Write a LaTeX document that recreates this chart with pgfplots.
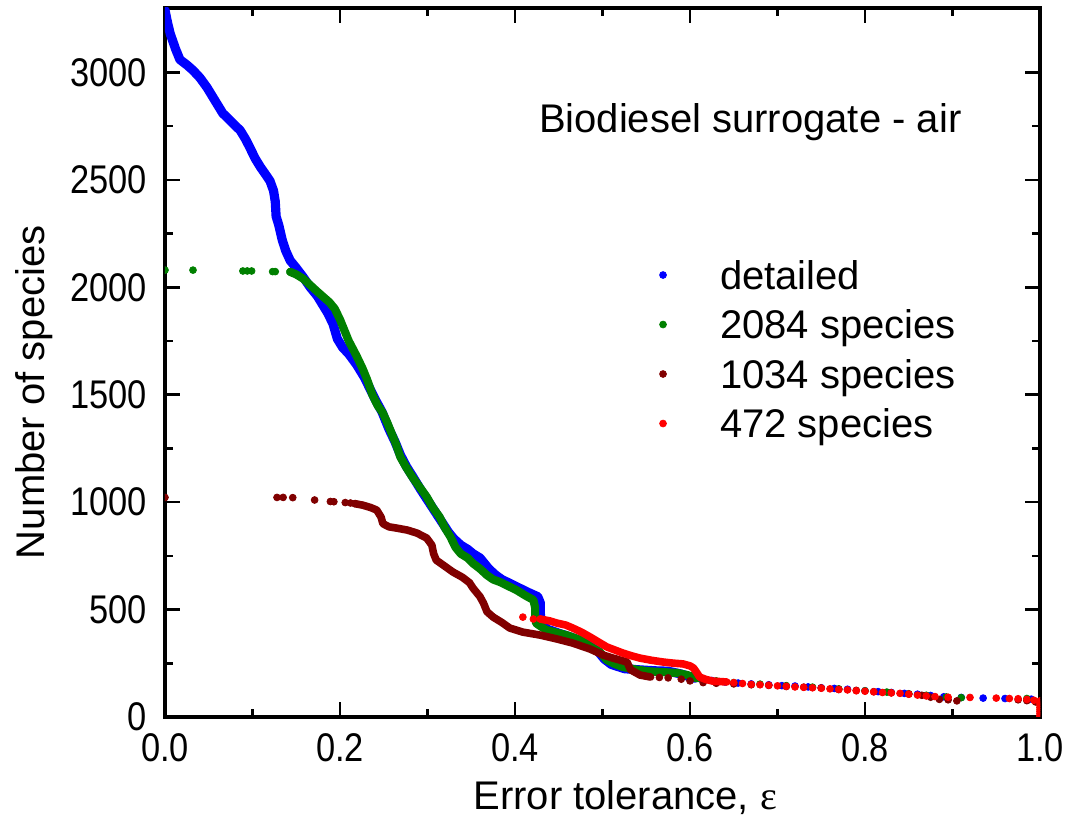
\documentclass[border=0pt]{standalone}
\usepackage{fontspec}
\setmainfont{Liberation Sans}
\newfontfamily\serifeps{Liberation Serif}
\newfontfamily\narrowsans[FakeStretch=0.86]{Liberation Sans}
\usepackage{pgfplots}
\pgfplotsset{compat=1.18}
\definecolor{cblue}{RGB}{0,0,255}
\definecolor{cgreen}{RGB}{0,128,0}
\definecolor{cbrown}{RGB}{128,0,0}
\definecolor{cred}{RGB}{255,0,0}

% ---------------- data ----------------
\pgfplotstableread{
x y
0.000 3290
0.003 3230
0.006 3180
0.012 3110
0.017 3060
0.025 3035
0.032 3010
0.040 2975
0.048 2930
0.057 2870
0.066 2810
0.076 2770
0.086 2730
0.092 2690
0.097 2650
0.103 2600
0.109 2560
0.115 2525
0.120 2495
0.124 2450
0.126 2400
0.127 2330
0.130 2290
0.134 2220
0.138 2170
0.143 2125
0.150 2090
0.158 2047
0.166 2000
0.174 1960
0.180 1920
0.186 1880
0.192 1830
0.197 1760
0.203 1720
0.210 1690
0.219 1640
0.228 1580
0.234 1530
0.240 1480
0.248 1420
0.256 1340
0.263 1280
0.269 1220
0.276 1165
0.283 1120
0.292 1060
0.300 1010
0.308 960
0.316 910
0.324 860
0.330 830
0.338 800
0.346 780
0.352 760
0.360 740
0.366 710
0.370 690
0.378 660
0.385 640
0.395 620
0.405 600
0.415 580
0.426 560
0.429 530
0.429 480
0.430 440
0.436 410
0.450 390
0.465 370
0.480 345
0.495 305
0.502 270
0.510 245
0.525 225
0.540 220
0.560 215
0.575 213
0.590 200
0.605 180
}\blueline
\pgfplotstableread{
x y
0.612 178
0.625 170
0.640 163
0.655 158
0.670 154
0.690 150
0.705 146
0.720 144
0.735 140
0.750 136
0.765 133
0.780 129
0.800 122
0.815 118
0.830 114
0.845 110
0.860 106
0.875 100
0.890 94
0.910 91
0.935 88
0.960 86
0.990 83
}\bluedots
\pgfplotstableread{
x y
0.143 2072
0.150 2060
0.158 2040
0.166 2010
0.174 1980
0.181 1955
0.188 1930
0.194 1900
0.200 1850
0.205 1800
0.210 1750
0.219 1680
0.226 1620
0.231 1570
0.237 1500
0.243 1450
0.249 1415
0.254 1370
0.258 1330
0.264 1270
0.269 1210
0.276 1160
0.283 1115
0.291 1070
0.299 1025
0.306 975
0.314 930
0.320 880
0.326 840
0.332 790
0.338 760
0.346 740
0.352 715
0.360 690
0.368 660
0.375 640
0.383 628
0.392 610
0.402 590
0.412 565
0.421 545
0.423 510
0.423 470
0.424 437
0.430 420
0.436 405
0.450 390
0.459 381
0.474 360
0.486 328
0.497 302
0.505 265
0.515 245
0.523 233
0.539 220
0.555 212
0.569 209
0.585 205
0.597 195
0.608 180
}\greenline
\pgfplotstableread{
x y
0.000 2080
0.032 2080
0.089 2076
0.094 2076
0.099 2076
0.123 2073
0.126 2073
0.143 2072
0.615 176
0.630 168
0.650 160
0.680 153
0.710 146
0.740 139
0.770 131
0.800 122
0.825 116
0.850 108
0.870 101
0.893 93
0.910 90
0.985 86
}\greendots
\pgfplotstableread{
x y
0.217 993
0.226 986
0.235 975
0.242 963
0.247 930
0.249 900
0.256 885
0.265 879
0.277 870
0.288 856
0.299 833
0.305 800
0.307 760
0.310 730
0.318 707
0.329 675
0.340 650
0.348 625
0.352 600
0.360 560
0.364 530
0.368 490
0.375 465
0.385 440
0.394 414
0.409 395
0.429 381
0.448 363
0.466 344
0.486 316
0.501 288
0.512 274
0.528 256
0.532 220
0.543 195
0.555 186
}\brownline
\pgfplotstableread{
x y
0.000 1022
0.128 1022
0.135 1022
0.146 1021
0.171 1010
0.189 1003
0.193 1002
0.206 998
0.212 996
0.217 993
0.565 184
0.575 182
0.590 176
0.600 168
0.615 160
0.630 157
0.650 154
0.670 150
0.690 147
0.710 142
0.730 139
0.750 135
0.770 128
0.790 124
0.810 118
0.830 113
0.850 107
0.865 101
0.875 92
0.885 82
0.895 80
0.905 75
0.975 80
0.985 76
0.995 70
}\browndots
\pgfplotstableread{
x y
0.429 456
0.440 447
0.448 437
0.458 428
0.466 414
0.476 395
0.486 372
0.495 350
0.505 326
0.514 312
0.523 298
0.533 285
0.543 274
0.556 264
0.569 256
0.580 251
0.592 247
0.600 238
0.604 228
0.608 205
0.611 186
0.618 175
0.626 167
0.642 163
}\redline
\pgfplotstableread{
x y
0.409 465
0.421 456
0.429 456
0.650 160
0.660 156
0.670 152
0.680 150
0.690 148
0.700 145
0.710 143
0.720 140
0.730 138
0.740 136
0.750 134
0.760 131
0.770 128
0.780 126
0.790 122
0.800 120
0.810 117
0.820 114
0.830 112
0.840 110
0.850 106
0.860 102
0.870 98
0.880 95
0.895 92
0.920 91
0.950 88
0.965 86
0.975 85
0.985 82
0.993 78
1.000 75
1.000 65
1.000 55
1.000 45
1.000 35
1.000 25
1.000 15
1.000 5
1.000 0
}\reddots

\begin{document}
\begin{tikzpicture}
\useasboundingbox (-82.5pt,-56.5pt) rectangle (450.5pt,358.5pt);
\begin{axis}[
  at={(0pt,0pt)}, anchor=south west,
  scale only axis, width=437.5pt, height=354.5pt,
  xmin=0, xmax=1, ymin=0, ymax=3300,
  xtick={0,0.2,0.4,0.6,0.8,1},
  ytick={0,500,1000,1500,2000,2500,3000},
  minor x tick num=1, minor y tick num=1,
  major tick length=7.5pt, minor tick length=4pt,
  tick align=inside,
  every tick/.style={black, line width=1.3pt},
  axis line style={black, line width=1.6pt},
  clip marker paths=true,
  /pgf/number format/assume math mode=true,
  tick label style={font=\narrowsans\fontsize{20}{24}\selectfont},
  xticklabel style={anchor=base, yshift=-22.5pt, /pgf/number format/.cd, fixed, fixed zerofill, precision=1},
  yticklabel style={anchor=east, inner sep=0pt, xshift=-9pt, /pgf/number format/.cd, set thousands separator={}},
  xlabel={Error tolerance, {\serifeps ε}},
  xlabel style={font=\fontsize{20}{24}\selectfont, at={(axis description cs:0.526,0)}, anchor=base, yshift=-46pt},
  ylabel={Number of species},
  ylabel style={font=\fontsize{20}{24}\selectfont, at={(axis description cs:-0.138,0.458)}, anchor=base},
  legend cell align=left,
  legend image code/.code={\draw[#1] plot coordinates {(0pt,0pt)}; \path[draw=none, fill=none] (-2pt,0pt) (28.5pt,0pt);},
  legend style={draw=none, fill=none, inner sep=0pt, outer sep=0pt,
    at={(axis description cs:0.5646,0.6516)}, anchor=north west,
    font=\fontsize{20}{24}\selectfont,
    nodes={inner sep=0pt, text height=17pt, text depth=3pt},
    row sep=4.75pt, /tikz/every even column/.style={column sep=0pt}},
]
\addplot[only marks, mark=*, mark size=1.7pt, color=cblue] table {\bluedots};
\addlegendentry{detailed}
\addplot[forget plot, no marks, color=cblue, line width=4.6pt, line join=round, line cap=round] table {\blueline};

\addplot[only marks, mark=*, mark size=1.7pt, color=cgreen] table {\greendots};
\addlegendentry{2084 species}
\addplot[forget plot, no marks, color=cgreen, line width=4.1pt, line join=round, line cap=round] table {\greenline};

\addplot[only marks, mark=*, mark size=1.7pt, color=cbrown] table {\browndots};
\addlegendentry{1034 species}
\addplot[forget plot, no marks, color=cbrown, line width=3.8pt, line join=round, line cap=round] table {\brownline};

\addplot[only marks, mark=*, mark size=1.7pt, color=cred] table {\reddots};
\addlegendentry{472 species}
\addplot[forget plot, no marks, color=cred, line width=3.8pt, line join=round, line cap=round] table {\redline};

\node[anchor=base west, font=\fontsize{20}{24}\selectfont, inner sep=0pt] at (axis description cs:0.427,0.825) {Biodiesel surrogate - air};
\end{axis}
\end{tikzpicture}
\end{document}
